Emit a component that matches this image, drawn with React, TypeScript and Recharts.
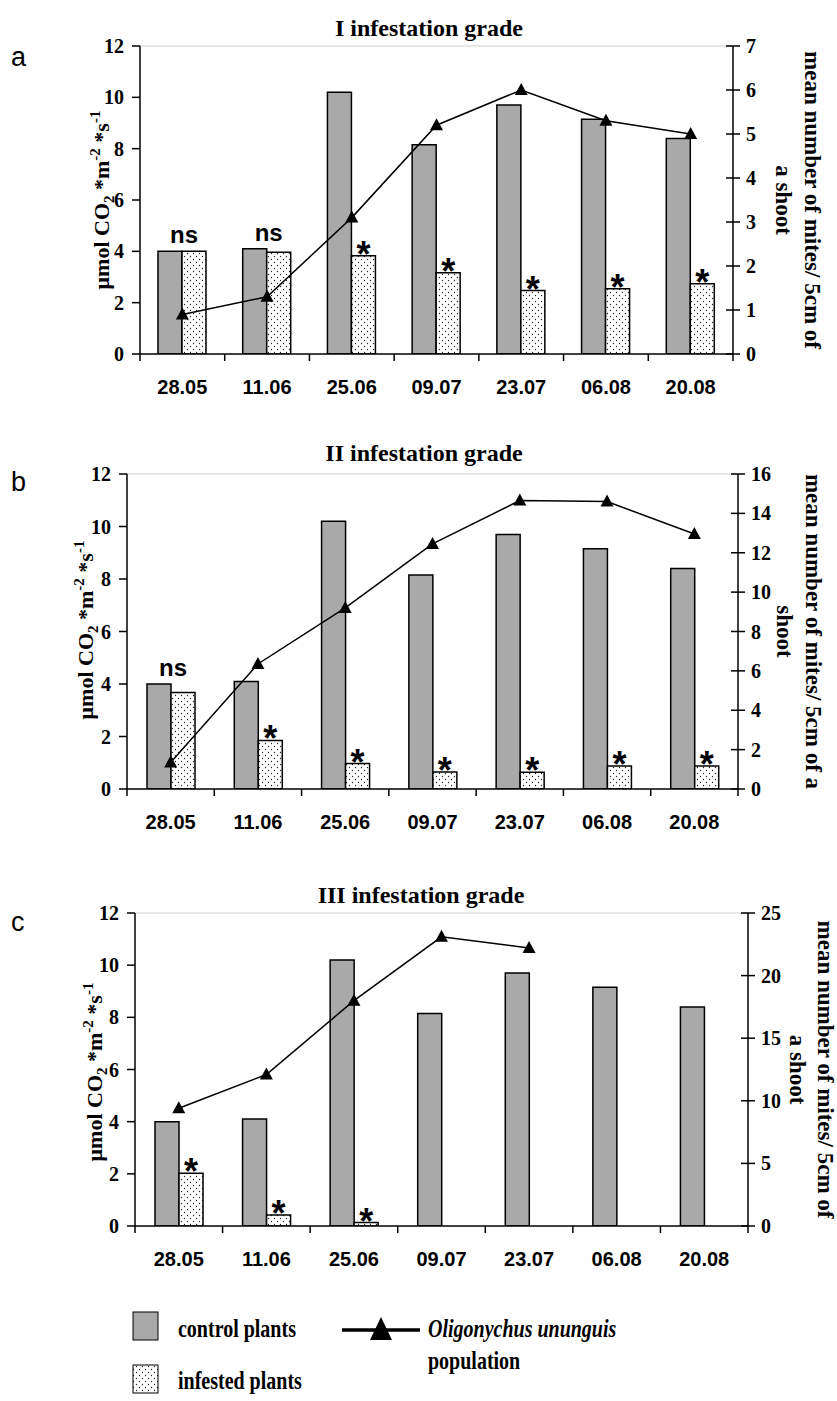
import React from 'react';
import { ComposedChart, Bar, Line, XAxis, YAxis, LabelList, ReferenceLine } from 'recharts';

const dates = ['28.05', '11.06', '25.06', '09.07', '23.07', '06.08', '20.08'];
const controlPlants = [4.0, 4.1, 10.2, 8.15, 9.7, 9.15, 8.4];

const infestedI = [4.0, 3.96, 3.83, 3.17, 2.47, 2.54, 2.74];
const infestedII = [3.68, 1.85, 0.97, 0.65, 0.64, 0.88, 0.88];
const infestedIII = [2.02, 0.42, 0.13, null, null, null, null];

const mitesI = [0.9, 1.3, 3.1, 5.2, 6.0, 5.3, 5.0];
const mitesII = [1.35, 6.35, 9.2, 12.45, 14.65, 14.6, 12.95];
const mitesIII = [9.4, 12.1, 18.0, 23.1, 22.2, null, null];

const marksI = ['ns', 'ns', '*', '*', '*', '*', '*'];
const marksII = ['ns', '*', '*', '*', '*', '*', '*'];
const marksIII = ['*', '*', '*', '', '', '', ''];

const leftTicks = [0, 2, 4, 6, 8, 10, 12];
const rightTicksI = [0, 1, 2, 3, 4, 5, 6, 7];
const rightTicksII = [0, 2, 4, 6, 8, 10, 12, 14, 16];
const rightTicksIII = [0, 5, 10, 15, 20, 25];

const SERIF = '"Liberation Serif", "Times New Roman", serif';
const SANS = '"Liberation Sans", Arial, sans-serif';
const GREY = '#a9a9a9';

const panels = [
  {
    letter: 'a', title: 'I infestation grade', infested: infestedI, mites: mitesI, marks: marksI,
    rightTicks: rightTicksI, right1: 'mean number of mites/ 5cm of', right2: 'a shoot',
    top: 0, plotTop: 46, plotBottom: 354, plotLeft: 140, plotRight: 733,
    letterY: 66, titleY: 36, titleX: 429, leftLabel: [109, 200], rightX: [805, 776],
  },
  {
    letter: 'b', title: 'II infestation grade', infested: infestedII, mites: mitesII, marks: marksII,
    rightTicks: rightTicksII, right1: 'mean number of mites/ 5cm of a', right2: 'shoot',
    top: 430, plotTop: 474, plotBottom: 789, plotLeft: 127, plotRight: 738,
    letterY: 491, titleY: 461, titleX: 424, leftLabel: [93, 630], rightX: [806, 777],
  },
  {
    letter: 'c', title: 'III infestation grade', infested: infestedIII, mites: mitesIII, marks: marksIII,
    rightTicks: rightTicksIII, right1: 'mean number of mites/ 5cm of', right2: 'a shoot',
    top: 860, plotTop: 913, plotBottom: 1226, plotLeft: 135, plotRight: 748,
    letterY: 931, titleY: 903, titleX: 421, leftLabel: [102, 1072], rightX: [818, 790],
  },
];

const CHART_H = 420;
const X_AXIS_H = 44;
const RIGHT_W = 44;

const makeXTick = (band: number) => (props: any) => {
  const { x, y, payload } = props;
  const i = payload?.index ?? props.index;
  const half = band / 2;
  return (
    <g>
      <line x1={x - half} x2={x - half} y1={y} y2={y + 7} stroke="#000" strokeWidth={1.5} />
      {i === dates.length - 1 && (
        <line x1={x + half} x2={x + half} y1={y} y2={y + 7} stroke="#000" strokeWidth={1.5} />
      )}
      <text x={x} y={y + 40} textAnchor="middle" fontFamily={SANS} fontWeight="bold" fontSize={20} fill="#000">
        {payload.value}
      </text>
    </g>
  );
};

// left ticks point outwards only, right ticks cross the axis
const leftTick = (props: any) => {
  const { x, y, payload } = props;
  return (
    <g>
      <line x1={x - 8} x2={x} y1={y} y2={y} stroke="#000" strokeWidth={1.5} />
      <text x={x - 16} y={y + 7} textAnchor="end" fontFamily={SERIF} fontWeight="bold" fontSize={20} fill="#000">
        {payload.value}
      </text>
    </g>
  );
};

const rightTick = (props: any) => {
  const { x, y, payload } = props;
  return (
    <g>
      <line x1={x - 7} x2={x + 7} y1={y} y2={y} stroke="#000" strokeWidth={1.5} />
      <text x={x + 13} y={y + 7} textAnchor="start" fontFamily={SERIF} fontWeight="bold" fontSize={20} fill="#000">
        {payload.value}
      </text>
    </g>
  );
};

const renderTriangle = (props: any) => {
  const { cx, cy, value, index } = props;
  if (value == null || cx == null || cy == null) return <g key={`t-${index}`} />;
  return (
    <path
      key={`t-${index}`}
      d={`M${cx},${cy - 7} L${cx + 6.5},${cy + 5} L${cx - 6.5},${cy + 5} Z`}
      fill="#000"
    />
  );
};

const renderNs = (props: any) => {
  const { x, y, width, value, index } = props;
  if (value !== 'ns') return null;
  return (
    <text key={`ns-${index}`} x={x + width + 2} y={y - 8} textAnchor="middle" fontFamily={SANS} fontWeight="bold" fontSize={24} fill="#000">
      ns
    </text>
  );
};

const renderStar = (props: any) => {
  const { x, y, width, value, index } = props;
  if (value !== '*' || y == null) return null;
  return (
    <text key={`st-${index}`} x={x + width / 2} y={y + 11} textAnchor="middle" fontFamily={SANS} fontWeight="bold" fontSize={36} fill="#000">
      *
    </text>
  );
};

const Panel = ({ p }: { p: (typeof panels)[number] }) => {
  const data = dates.map((d, i) => ({
    date: d,
    control: controlPlants[i],
    infested: p.infested[i],
    mites: p.mites[i],
    mark: p.marks[i],
  }));
  const band = (p.plotRight - p.plotLeft) / dates.length;
  const margin = {
    top: p.plotTop - p.top,
    left: 0,
    right: 837 - p.plotRight - RIGHT_W,
    bottom: CHART_H - X_AXIS_H - (p.plotBottom - p.top),
  };
  const rightMax = p.rightTicks[p.rightTicks.length - 1];
  return (
    <div style={{ position: 'absolute', left: 0, top: p.top }}>
      <ComposedChart width={837} height={CHART_H} data={data} margin={margin} barGap={0} barSize={24}>
        <XAxis
          dataKey="date"
          height={X_AXIS_H}
          interval={0}
          axisLine={{ stroke: '#000', strokeWidth: 1.5 }}
          tickLine={false}
          tickSize={0}
          tickMargin={0}
          tick={makeXTick(band)}
        />
        <YAxis
          yAxisId="l"
          domain={[0, 12]}
          ticks={leftTicks}
          interval={0}
          width={p.plotLeft}
          allowDataOverflow
          axisLine={{ stroke: '#000', strokeWidth: 1.5 }}
          tickLine={false}
          tickSize={0}
          tickMargin={0}
          tick={leftTick}
        />
        <YAxis
          yAxisId="r"
          orientation="right"
          domain={[0, rightMax]}
          ticks={p.rightTicks}
          interval={0}
          width={RIGHT_W}
          allowDataOverflow
          axisLine={{ stroke: '#000', strokeWidth: 1.5 }}
          tickLine={false}
          tickSize={0}
          tickMargin={0}
          tick={rightTick}
        />
        <ReferenceLine yAxisId="l" y={12} stroke="#cfcfcf" strokeWidth={1} />
        <Bar yAxisId="l" dataKey="control" fill={GREY} stroke="#000" strokeWidth={1.5} isAnimationActive={false}>
          <LabelList dataKey="mark" content={renderNs} />
        </Bar>
        <Bar yAxisId="l" dataKey="infested" fill="url(#dots)" stroke="#000" strokeWidth={1.5} isAnimationActive={false}>
          <LabelList dataKey="mark" content={renderStar} />
        </Bar>
        <Line
          yAxisId="r"
          type="linear"
          dataKey="mites"
          stroke="#000"
          strokeWidth={1.5}
          dot={renderTriangle}
          activeDot={false}
          isAnimationActive={false}
        />
      </ComposedChart>
    </div>
  );
};

const LegendText = ({ x, y, italic, children }: { x: number; y: number; italic?: boolean; children: React.ReactNode }) => (
  <text
    transform={`translate(${x},${y}) scale(1,1.22)`}
    fontFamily={SERIF}
    fontWeight="bold"
    fontStyle={italic ? 'italic' : 'normal'}
    fontSize={20}
    fill="#000"
  >
    {children}
  </text>
);

export default function App() {
  return (
    <div style={{ position: 'absolute', left: 0, top: 0, width: 837, height: 1401, background: '#fff' }}>
      <svg width={0} height={0} style={{ position: 'absolute' }}>
        <defs>
          <pattern id="dots" width={6} height={6} patternUnits="userSpaceOnUse">
            <rect width={6} height={6} fill="#fff" />
            <circle cx={1.5} cy={1.5} r={0.65} fill="#222" />
            <circle cx={4.5} cy={4.5} r={0.65} fill="#222" />
          </pattern>
        </defs>
      </svg>
      <svg width={837} height={1401} style={{ position: 'absolute', left: 0, top: 0 }}>
        {panels.map((p) => (
          <g key={p.letter}>
            <text x={11} y={p.letterY} fontFamily={SANS} fontSize={27} fill="#000">{p.letter}</text>
            <text x={p.titleX} y={p.titleY} textAnchor="middle" fontFamily={SERIF} fontWeight="bold" fontSize={24} fill="#000">
              {p.title}
            </text>
            <text
              transform={`translate(${p.leftLabel[0]},${p.leftLabel[1]}) rotate(-90)`}
              textAnchor="middle"
              fontFamily={SERIF}
              fontWeight="bold"
              fontSize={22}
              fill="#000"
            >
              μmol CO<tspan dy={5} fontSize={15}>2</tspan>
              <tspan dy={-5}> *m</tspan>
              <tspan dy={-9} fontSize={15}>-2</tspan>
              <tspan dy={9}> *s</tspan>
              <tspan dy={-9} fontSize={15}>-1</tspan>
            </text>
            <text
              transform={`translate(${p.rightX[0]},${(p.plotTop + p.plotBottom) / 2}) rotate(90)`}
              textAnchor="middle"
              fontFamily={SERIF}
              fontWeight="bold"
              fontSize={23}
              fill="#000"
            >
              {p.right1}
            </text>
            <text
              transform={`translate(${p.rightX[1]},${(p.plotTop + p.plotBottom) / 2}) rotate(90)`}
              textAnchor="middle"
              fontFamily={SERIF}
              fontWeight="bold"
              fontSize={23}
              fill="#000"
            >
              {p.right2}
            </text>
          </g>
        ))}
        <rect x={133} y={1312} width={25} height={28} fill={GREY} stroke="#000" strokeWidth={1} />
        <rect x={133} y={1365} width={25} height={28} fill="url(#dots)" stroke="#000" strokeWidth={1} />
        <LegendText x={178} y={1337}>control plants</LegendText>
        <LegendText x={178} y={1389}>infested plants</LegendText>
        <line x1={342} x2={420} y1={1330} y2={1330} stroke="#000" strokeWidth={3.5} />
        <path d="M381,1317 L392,1340 L370,1340 Z" fill="#000" />
        <LegendText x={428} y={1337} italic>Oligonychus ununguis</LegendText>
        <LegendText x={428} y={1369}>population</LegendText>
      </svg>
      {panels.map((p) => (
        <Panel key={p.letter} p={p} />
      ))}
    </div>
  );
}
